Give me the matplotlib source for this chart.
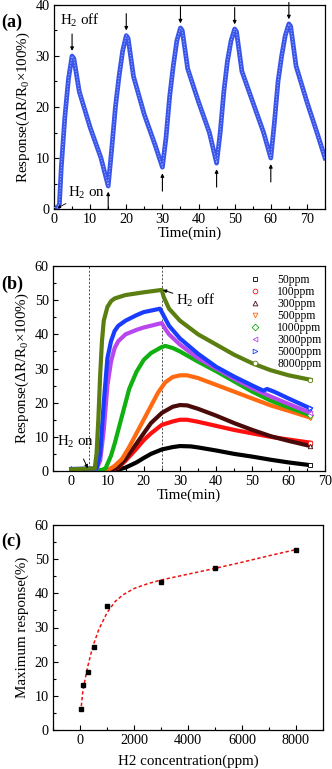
import matplotlib
matplotlib.use("Agg")
import matplotlib.pyplot as plt
from matplotlib.ticker import MultipleLocator

plt.rcParams['font.family'] = ['Liberation Serif', 'DejaVu Serif']
plt.rcParams['mathtext.fontset'] = 'custom'
plt.rcParams['mathtext.rm'] = 'Liberation Serif'
plt.rcParams['mathtext.it'] = 'Liberation Serif:italic'

# ---------------- Panel (a) data: cyclic response ----------------
cycle_time = [0, 1, 1.5, 2, 3, 4, 5, 5.5, 7, 10, 12, 13, 15,
              16, 17, 18, 19, 20, 20.5, 22, 25, 28, 30,
              31, 32, 33, 34, 35, 35.5, 37, 40, 43, 45,
              46, 47, 48, 49, 50, 50.5, 52, 55, 58, 60,
              61, 62, 63, 64, 65, 65.5, 67, 70, 73, 75]
cycle_resp = [0.3, 0.2, 1, 8, 18, 25.5, 30, 29.5, 23, 16, 12, 10, 4.5,
              12, 20, 26, 31, 34, 33.5, 26, 18.5, 12.5, 8.2,
              14, 22, 28, 33, 35.5, 35, 27.5, 21, 15, 9,
              15, 23, 29, 33, 35.3, 34.8, 27, 21, 15, 10,
              17, 25, 30, 34, 36.3, 35.8, 28, 21, 14.5, 10]
off_times = [5, 20, 35, 50, 65]
off_tips = [31.0, 35.0, 36.4, 36.2, 37.2]
on_times = [15, 30, 45, 60]
on_tips = [3.4, 7.0, 7.8, 8.8]

# ---------------- Panel (b) data: concentration series ----------------
conc_labels = ['50ppm', '100ppm', '300ppm', '500ppm', '1000ppm', '3000ppm', '5000ppm', '8000ppm']
t_50 = [0, 5, 10, 12, 15, 18, 20, 22, 25, 28, 30, 33, 35, 40, 45, 50, 55, 60, 66]
r_50 = [0, 0, 0, 0.1, 1, 2.5, 3.8, 5, 6.3, 7, 7.3, 7.2, 6.9, 6, 5, 4.2, 3.3, 2.5, 1.7]
t_100 = [0, 5, 10, 11, 13, 15, 18, 20, 22, 25, 28, 30, 32, 35, 40, 45, 50, 55, 60, 66]
r_100 = [0, 0, 0, 0.2, 1, 3, 6.5, 9, 11, 13.5, 14.5, 15, 15, 14.4, 13.2, 12, 11, 10, 9.2, 8.3]
t_300 = [0, 5, 10, 11, 13, 15, 18, 20, 22, 25, 28, 30, 32, 35, 40, 45, 50, 55, 60, 66]
r_300 = [0, 0, 0, 0.2, 1.2, 3.5, 8, 11, 14, 17, 18.8, 19.3, 19.2, 18.2, 16.2, 14, 12, 10.2, 8.8, 7.3]
t_500 = [0, 5, 9, 10, 12, 14, 16, 18, 20, 22, 24, 26, 28, 30, 32, 35, 40, 45, 50, 55, 60, 66]
r_500 = [0, 0, 0, 0.2, 1.5, 3.5, 7, 11, 15, 19, 23, 26, 27.5, 28, 28, 27.2, 25.2, 23.2, 21.2, 19.2, 17.6, 15.6]
t_1000 = [0, 5, 8.5, 9.5, 10, 11, 12, 14, 16, 18, 20, 22, 25, 26, 28, 30, 35, 40, 45, 50, 55, 60, 66]
r_1000 = [0.3, 0.3, 0.3, 0.8, 2, 4.5, 8, 16, 24, 29, 32.5, 34.5, 36.3, 36.6, 36, 35, 32, 29.2, 26.2, 23.2, 20.6, 18.6, 16.3]
t_3000 = [0, 5, 7, 8, 9, 10, 11, 12, 13, 15, 18, 20, 25, 26, 27, 30, 35, 40, 45, 50, 55, 60, 66]
r_3000 = [0.5, 0.6, 0.6, 3, 12, 25, 32, 36, 38, 40, 41.3, 42, 43.3, 41.5, 40, 37, 33, 30, 27, 24.2, 21.8, 19.6, 17]
t_5000 = [0, 5, 7, 8, 9, 10, 11, 12, 13, 15, 18, 20, 24.5, 25.5, 27, 30, 35, 40, 45, 50, 53, 54, 56, 60, 66]
r_5000 = [0.6, 0.7, 0.7, 5, 20, 33, 38, 41, 42.5, 44, 45.6, 46.5, 47.5, 45.5, 42.5, 38.8, 34.3, 30.5, 27.6, 25, 23.5, 24, 23.2, 21.2, 18.3]
t_8000 = [0, 5, 6.5, 7, 7.5, 8, 8.5, 9, 10, 11, 12, 15, 20, 25, 25.5, 27, 30, 35, 40, 45, 50, 55, 60, 66]
r_8000 = [0.5, 0.7, 0.7, 5, 15, 28, 38, 44, 48, 49.7, 50.5, 51.5, 52.3, 53, 51, 47.5, 44, 40, 37, 34, 31.5, 29.5, 28, 26.7]

# ---------------- Panel (c) data ----------------
h2_conc = [50, 100, 300, 500, 1000, 3000, 5000, 8000]
max_resp = [6.2, 13.1, 17.0, 24.2, 36.3, 43.2, 47.3, 52.8]
fit_conc = [50, 100, 200, 300, 400, 500, 700, 1000, 1300, 1600, 2000, 2500, 3000, 4000, 5000, 6000, 7000, 8000]
fit_resp = [7.0, 11.0, 15.3, 19.0, 22.2, 25.0, 29.5, 34.3, 37.6, 39.6, 41.4, 42.8, 43.9, 45.6, 47.3, 49.1, 51.0, 52.8]

# ---------------- Figure ----------------
fig = plt.figure(figsize=(3.32, 7.69), dpi=100)
W, H = 332, 769

def make_axes(l, r, t, b):
    return fig.add_axes([l / W, 1 - b / H, (r - l) / W, (b - t) / H])

TICK_FS = 10.2
LAB_FS = 10.8
PANEL_FS = 13

def style(ax):
    ax.tick_params(direction='in', which='both', top=False, right=False, labelsize=TICK_FS, pad=3)
    ax.tick_params(which='major', length=3.5, width=0.8)
    ax.tick_params(which='minor', length=2, width=0.8)
    for s in ax.spines.values():
        s.set_linewidth(0.9)

# (a)
axa = make_axes(54, 325, 5, 209)
axa.plot(cycle_time, cycle_resp, color='#3a55ea', lw=3.4, solid_joinstyle='round', zorder=2)
axa.plot(cycle_time, cycle_resp, color='#b0c0ff', lw=0.6, ls=(0, (1.5, 2)), zorder=3)
axa.set_xlim(0, 75)
axa.set_ylim(0, 40)
axa.xaxis.set_major_locator(MultipleLocator(10))
axa.xaxis.set_minor_locator(MultipleLocator(5))
axa.yaxis.set_major_locator(MultipleLocator(10))
axa.yaxis.set_minor_locator(MultipleLocator(5))
style(axa)
axa.set_xlabel('Time(min)', fontsize=LAB_FS, labelpad=0)
axa.set_ylabel(r'Response($\Delta$R/R$_0$$\times$100%)', fontsize=LAB_FS, labelpad=3)
for x, tip in zip(off_times, off_tips):
    axa.annotate('', xy=(x, tip), xytext=(x, tip + 3.3),
                 arrowprops=dict(arrowstyle='-|>', color='black', lw=0.8, mutation_scale=5, shrinkA=0, shrinkB=0))
for x, tip in zip(on_times, on_tips):
    axa.annotate('', xy=(x, tip), xytext=(x, tip - 3.5),
                 arrowprops=dict(arrowstyle='-|>', color='black', lw=0.8, mutation_scale=5, shrinkA=0, shrinkB=0))
axa.text(7.3, 36.9, r'H$_2$ off', fontsize=LAB_FS, ha='center', va='center')
axa.annotate(r'H$_2$ on', xy=(1.0, 0.2), xytext=(3.8, 3.2), fontsize=LAB_FS, ha='left', va='center',
             arrowprops=dict(arrowstyle='-|>', color='black', lw=0.6, mutation_scale=4, shrinkA=0, shrinkB=0))
fig.text(1 / W, 1 - 22 / H, '(a)', fontsize=PANEL_FS, fontweight='bold', va='center', ha='left')

# (b)
axb = make_axes(53, 325, 266, 471)
series_t = [t_50, t_100, t_300, t_500, t_1000, t_3000, t_5000, t_8000]
series_r = [r_50, r_100, r_300, r_500, r_1000, r_3000, r_5000, r_8000]
colors = ['#000000', '#ff1010', '#4a0a0a', '#ff6a10', '#10b010', '#b848ee', '#1a3cff', '#5a7e10']
markers = ['s', 'o', '^', 'v', 'D', '<', '>', 'o']
for t, r, c, m, lab in zip(series_t, series_r, colors, markers, conc_labels):
    axb.plot(t, r, color=c, lw=3.0, solid_joinstyle='round', zorder=2)
    axb.plot(t[-1:], r[-1:], ls='none', marker=m, ms=3.2, mfc='white', mec=c, mew=0.6, zorder=3)
    axb.plot([], [], ls='none', marker=m, ms=3.4, mfc='white', mec=c, mew=0.6, label=lab)
axb.axvline(5, color='#333333', ls=(0, (2.5, 2)), lw=0.6, zorder=1)
axb.axvline(25, color='#333333', ls=(0, (2.5, 2)), lw=0.6, zorder=1)
axb.set_xlim(-5, 70)
axb.set_ylim(0, 60)
axb.xaxis.set_major_locator(MultipleLocator(10))
axb.xaxis.set_minor_locator(MultipleLocator(5))
axb.yaxis.set_major_locator(MultipleLocator(10))
axb.yaxis.set_minor_locator(MultipleLocator(5))
style(axb)
axb.set_xlabel('Time(min)', fontsize=LAB_FS, labelpad=0)
axb.set_ylabel(r'Response($\Delta$R/R$_0$$\times$100%)', fontsize=LAB_FS, labelpad=3)
leg = axb.legend(loc='upper right', bbox_to_anchor=(1.015, 1.0), frameon=False, fontsize=8.4,
                 handlelength=0.8, handletextpad=1.5, labelspacing=0.0, borderaxespad=0.25)
axb.annotate(r'H$_2$ off', xy=(25.3, 53), xytext=(34.3, 49.8), fontsize=LAB_FS, ha='center', va='center',
             arrowprops=dict(arrowstyle='-|>', color='black', lw=0.7, mutation_scale=5, shrinkA=0, shrinkB=0))
axb.annotate(r'H$_2$ on', xy=(4.6, 0.8), xytext=(1.2, 8.5), fontsize=LAB_FS, ha='center', va='center',
             arrowprops=dict(arrowstyle='-|>', color='black', lw=0.7, mutation_scale=5, shrinkA=5, shrinkB=0))
fig.text(1 / W, 1 - 284 / H, '(b)', fontsize=PANEL_FS, fontweight='bold', va='center', ha='left')

# (c)
axc = make_axes(53, 323, 525, 730)
axc.plot(fit_conc, fit_resp, color='#ee1111', lw=1.1, ls=(0, (2.2, 1.6)), zorder=2)
axc.plot(h2_conc, max_resp, ls='none', marker='s', ms=3.4, color='black', zorder=3)
axc.set_xlim(-1000, 9000)
axc.set_ylim(0, 60)
axc.xaxis.set_major_locator(MultipleLocator(2000))
axc.xaxis.set_minor_locator(MultipleLocator(1000))
axc.yaxis.set_major_locator(MultipleLocator(10))
axc.yaxis.set_minor_locator(MultipleLocator(5))
style(axc)
axc.set_xlabel('H2 concentration(ppm)', fontsize=LAB_FS, labelpad=5)
axc.set_ylabel('Maximum response(%)', fontsize=LAB_FS, labelpad=4)
fig.text(1 / W, 1 - 541 / H, '(c)', fontsize=PANEL_FS, fontweight='bold', va='center', ha='left')

fig.savefig('out.png', dpi=100)
